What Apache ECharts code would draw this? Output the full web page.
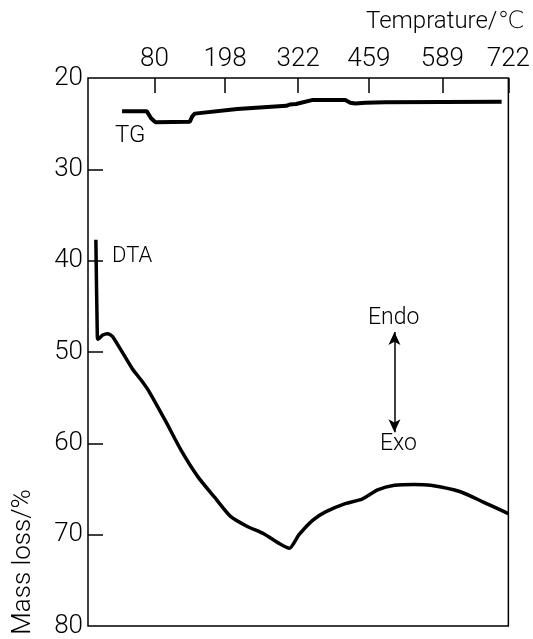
<!DOCTYPE html>
<html>
<head>
<meta charset="utf-8">
<script src="https://cdn.jsdelivr.net/npm/echarts@6/dist/echarts.min.js"></script>
<style>
  html, body { margin: 0; padding: 0; background: #fff; }
  #chart { width: 533px; height: 639px; }
</style>
</head>
<body>
<div id="chart"></div>
<script>
// top axis: scan position (0-100) of each temperature tick
var tickPos = [15.8, 32.6, 50.0, 66.8, 84.3, 100];
var tempLabels = ['80', '198', '322', '459', '589', '722'];
var massTicks = [20, 30, 40, 50, 60, 70, 80];

// TG curve [position, mass loss %]
var tgData = [
  [8.1, 23.65], [14.0, 23.65], [15.0, 24.4], [16.05, 24.85], [24.2, 24.8],
  [24.8, 24.2], [25.4, 23.9], [35.5, 23.4], [47.2, 23.05], [48.0, 22.9],
  [49.5, 22.85], [53.5, 22.4], [61.2, 22.4], [62.4, 22.7], [63.6, 22.8],
  [66.0, 22.7], [70.6, 22.65], [98.4, 22.6]
];

// DTA curve
var dtaData = [
  [1.87, 37.7], [2.22, 48.3], [2.4, 48.6], [3.5, 48.15], [4.67, 48.0],
  [5.84, 48.3], [10.5, 51.8], [12.85, 53.2], [14.5, 54.3], [18.5, 57.6],
  [22.2, 60.8], [26.2, 63.7], [30.1, 65.9], [33.9, 68.0], [37.9, 69.1],
  [41.8, 69.9], [45.6, 71.0], [47.9, 71.5], [50.2, 70.0], [53.5, 68.4],
  [56.5, 67.5], [61.2, 66.6], [65.2, 66.1], [68.9, 65.1], [72.9, 64.6],
  [77.6, 64.5], [81.5, 64.6], [88.6, 65.3], [93.9, 66.4], [100, 67.7]
];

// Endo/Exo arrow ends
var arrowPos = 72.9;
var arrowTop = 47.8;
var arrowBottom = 58.8;

var chart = echarts.init(document.getElementById('chart'));
var font = 'Roboto, "DejaVu Sans", sans-serif';

var option = {
  backgroundColor: '#fff',
  animation: false,
  grid: {
    left: 88, right: 17, top: 78, bottom: 9,
    show: true, borderColor: '#000', borderWidth: 1.5, backgroundColor: 'transparent'
  },
  xAxis: {
    type: 'value',
    position: 'top',
    min: 0, max: 100,
    axisLine: { show: false },
    splitLine: { show: false },
    axisTick: {
      inside: true, length: 15, customValues: tickPos,
      lineStyle: { color: '#000', width: 1.5 }
    },
    axisLabel: {
      customValues: tickPos,
      margin: 6,
      color: '#000', fontSize: 26, fontWeight: 300, fontFamily: font,
      formatter: function (v) {
        var i = tickPos.indexOf(v);
        return i >= 0 ? tempLabels[i] : '';
      }
    }
  },
  yAxis: {
    type: 'value',
    inverse: true,
    min: 20, max: 80, interval: 10,
    axisLine: { show: false },
    splitLine: { show: false },
    axisTick: {
      inside: true, length: 15, customValues: massTicks.slice(1, -1),
      lineStyle: { color: '#000', width: 1.5 }
    },
    axisLabel: {
      customValues: massTicks,
      margin: 5, color: '#000', fontSize: 26, fontWeight: 300, fontFamily: font
    }
  },
  series: [
    {
      name: 'TG', type: 'line', data: tgData, symbol: 'none',
      lineStyle: { color: '#000', width: 4 }
    },
    {
      name: 'DTA', type: 'line', data: dtaData, symbol: 'none', smooth: 0.2,
      lineStyle: { color: '#000', width: 3.5 },
      markLine: {
        silent: true,
        symbol: ['arrow', 'arrow'],
        symbolSize: [9, 13],
        label: { show: false },
        lineStyle: { color: '#000', width: 1.5, type: 'solid' },
        data: [[{ coord: [arrowPos, arrowTop] }, { coord: [arrowPos, arrowBottom] }]]
      }
    }
  ],
  graphic: [
    { type: 'text', x: 366, y: 10, style: { text: 'Temprature/℃', fontSize: 24, fontWeight: 300, fontFamily: font, fill: '#000' } },
    { type: 'text', x: 23, y: 562, rotation: Math.PI / 2,
      style: { text: 'Mass loss/%', fontSize: 26, fontWeight: 300, fontFamily: font, fill: '#000', align: 'center', verticalAlign: 'middle' } },
    { type: 'text', x: 115, y: 124, style: { text: 'TG', fontSize: 24, fontWeight: 300, fontFamily: font, fill: '#000' } },
    { type: 'text', x: 112, y: 245, style: { text: 'DTA', fontSize: 22, fontWeight: 300, fontFamily: font, fill: '#000' } },
    { type: 'text', x: 368, y: 307, style: { text: 'Endo', fontSize: 23, fontWeight: 300, fontFamily: font, fill: '#000' } },
    { type: 'text', x: 380, y: 433, style: { text: 'Exo', fontSize: 23, fontWeight: 300, fontFamily: font, fill: '#000' } }
  ]
};

chart.setOption(option);
</script>
</body>
</html>
